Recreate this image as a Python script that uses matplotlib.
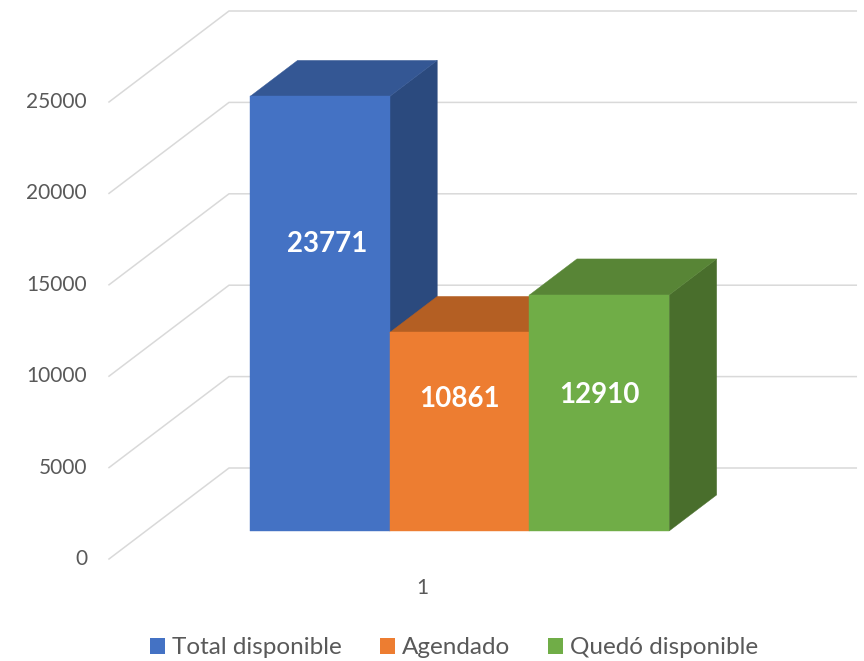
import matplotlib.pyplot as plt
from matplotlib.patches import Polygon, Patch

plt.rcParams['font.family'] = ['Lato', 'DejaVu Sans']

series = ["Total disponible", "Agendado", "Quedó disponible"]
values = [23771, 10861, 12910]
category = "1"
yticks = [0, 5000, 10000, 15000, 20000, 25000]

front_colors = ["#4472C4", "#ED7D31", "#70AD47"]
top_colors = ["#345794", "#B45F23", "#588536"]
side_colors = ["#2B4A7E", "#9C521E", "#496E2C"]
# where the value label sits on each front face (fraction of height, x offset)
label_frac = [0.66, 0.665, 0.575]
label_dx = [0.05, 0.0, 0.0]

W, H = 864, 661
fig = plt.figure(figsize=(W / 100, H / 100), dpi=100)
ax = fig.add_axes([0, 0, 1, 1])

px_x = 139.7     # pixels per bar width
px_y = 0.01828   # pixels per value unit
x0, y0 = 109, 102  # floor front-left corner (pixels from bottom-left)
ax.set_xlim(-x0 / px_x, (W - x0) / px_x)
ax.set_ylim(-y0 / px_y, (H - y0) / px_y)
ax.axis('off')

depth = (120 / px_x, 91 / px_y)
gap = 0.745
floor_w = len(values) + 2 * gap
d0, d1 = 0.308, 0.704


def shift(x, y, d):
    return (x + d * depth[0], y + d * depth[1])


# side wall + back wall gridlines
for v in yticks:
    a = (0, v)
    b = shift(0, v, 1)
    c = shift(floor_w, v, 1)
    ax.plot([a[0], b[0], c[0]], [a[1], b[1], c[1]], color="#D9D9D9", lw=1.1,
            solid_joinstyle='miter', zorder=1)
    ax.text(-22 / px_x, v, f"{v}", ha='right', va='center', fontsize=15,
            color='#595959')

# bars, left to right so later ones cover earlier side faces
for i, v in enumerate(values):
    xl = gap + i
    xr = xl + 1
    side = [shift(xr, 0, d0), shift(xr, 0, d1), shift(xr, v, d1), shift(xr, v, d0)]
    top = [shift(xl, v, d0), shift(xr, v, d0), shift(xr, v, d1), shift(xl, v, d1)]
    front = [shift(xl, 0, d0), shift(xr, 0, d0), shift(xr, v, d0), shift(xl, v, d0)]
    z = 2 + i
    ax.add_patch(Polygon(side, closed=True, fc=side_colors[i], ec=side_colors[i], lw=0.3, zorder=z))
    ax.add_patch(Polygon(top, closed=True, fc=top_colors[i], ec=top_colors[i], lw=0.3, zorder=z))
    ax.add_patch(Polygon(front, closed=True, fc=front_colors[i], ec=front_colors[i], lw=0.3, zorder=z))
    lx, ly = shift(xl + 0.5 + label_dx[i], v * label_frac[i], d0)
    ax.text(lx, ly, f"{v}", ha='center', va='center', fontsize=20,
            fontweight='bold', color='white', zorder=10)

# category label
ax.text(floor_w / 2, -29 / px_y, category, ha='center', va='center',
        fontsize=15, color='#595959')

handles = [Patch(fc=c, ec='none') for c in front_colors]
fig.legend(handles, series, loc='center', bbox_to_anchor=(0.5255, 13 / H),
           ncol=3, frameon=False, fontsize=17.5, labelcolor='#595959',
           handlelength=0.62, handleheight=0.62, handletextpad=0.3,
           columnspacing=1.55)

fig.savefig("out.png", dpi=100, facecolor='white')
